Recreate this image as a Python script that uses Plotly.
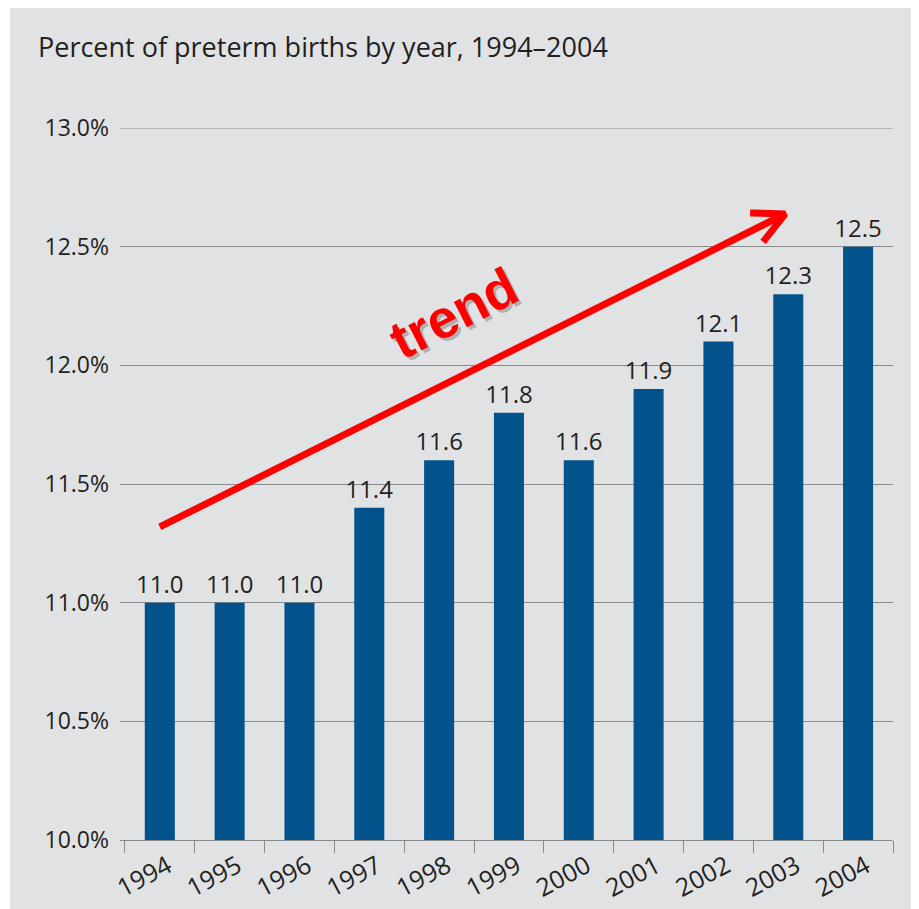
import plotly.graph_objects as go

years = ["1994", "1995", "1996", "1997", "1998", "1999", "2000", "2001", "2002", "2003", "2004"]
pct = [11.0, 11.0, 11.0, 11.4, 11.6, 11.8, 11.6, 11.9, 12.1, 12.3, 12.5]
y_ticks = [10.0, 10.5, 11.0, 11.5, 12.0, 12.5, 13.0]
y_labels = ["10.0%", "10.5%", "11.0%", "11.5%", "12.0%", "12.5%", "13.0%"]

# trend arrow (category index, percent)
trend_x = [0.0, 8.956]
trend_y = [11.319, 12.638]
head_x = [8.454, 8.956, 8.640]
head_y = [12.642, 12.638, 12.520]

TXT = "#231f20"
GRID = "#8a8a8a"
BG = "#e1e2e4"
BAR = "#02538b"
RED = "#ff0000"

idx = list(range(len(years)))
boundaries = [i - 0.5 for i in range(len(years) + 1)]

fig = go.Figure()
fig.add_trace(go.Bar(
    x=idx, y=[v - 10.0 for v in pct], base=10.0,
    marker=dict(color=BAR, line=dict(width=0)),
    width=0.43,
    text=[f"{v:.1f}" for v in pct], textposition="outside",
    textfont=dict(family="Open Sans", size=24, color=TXT),
    constraintext="none", cliponaxis=False, hoverinfo="skip",
))
fig.add_trace(go.Scatter(x=trend_x, y=trend_y, mode="lines",
                         line=dict(color=RED, width=7), hoverinfo="skip", cliponaxis=False))
fig.add_trace(go.Scatter(x=head_x, y=head_y, mode="lines",
                         line=dict(color=RED, width=7), hoverinfo="skip", cliponaxis=False))

fig.add_annotation(x=4.2, y=12.22, xref="x", yref="y", text="<b>trend</b>", showarrow=False,
                   textangle=-27, xshift=3, yshift=-3,
                   font=dict(family="Liberation Sans", size=54, color="rgba(0,0,0,0.22)"))
fig.add_annotation(x=4.2, y=12.22, xref="x", yref="y", text="<b>trend</b>", showarrow=False,
                   textangle=-27, font=dict(family="Liberation Sans", size=54, color=RED))

fig.add_annotation(x=-0.1087, y=1.1138, xref="paper", yref="paper", xanchor="left", yanchor="middle",
                   text="Percent of preterm births by year, 1994–2004", showarrow=False,
                   font=dict(family="Open Sans", size=27, color=TXT))

# thin white strip at the left edge of the gray panel
fig.add_shape(type="rect", xref="paper", yref="paper", x0=-0.16, x1=-0.1423, y0=-0.2, y1=1.3,
              fillcolor="white", line=dict(width=0), layer="below")
# top gridline (13.0%) sits on the plot edge
fig.add_shape(type="line", xref="paper", yref="y", x0=0, x1=1, y0=13.0, y1=13.0,
              line=dict(color=GRID, width=1), layer="below")

fig.update_layout(
    width=911, height=901,
    margin=dict(l=112, r=26, t=120, b=69, pad=0, autoexpand=False),
    paper_bgcolor=BG, plot_bgcolor=BG,
    showlegend=False,
    xaxis=dict(
        tickmode="array", tickvals=idx, ticktext=years, automargin=False,
        range=[-0.57, 10.5], ticks="", showgrid=False,
        showline=True, linecolor=GRID, linewidth=1.2,
        minor=dict(tickmode="array", tickvals=boundaries, ticks="outside", ticklen=12,
                   tickcolor=GRID, tickwidth=1.2, showgrid=False),
        tickangle=-28, tickfont=dict(family="Open Sans", size=25, color=TXT), zeroline=False,
        ticklabelstandoff=1, ticklabelshift=8,
    ),
    yaxis=dict(
        range=[10.0, 13.0], tickmode="array", tickvals=y_ticks, ticktext=y_labels,
        showgrid=True, gridcolor=GRID, gridwidth=1, zeroline=False, showline=False,
        ticks="", ticklabelstandoff=10, automargin=False,
        tickfont=dict(family="Open Sans", size=23, color=TXT),
    ),
)

fig.write_html("out.html")
